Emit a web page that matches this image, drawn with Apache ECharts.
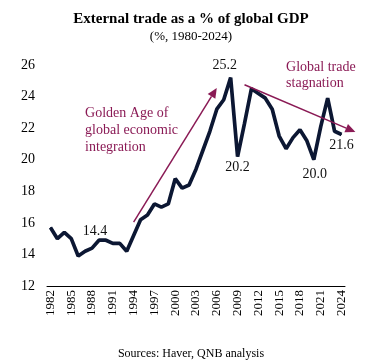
<!DOCTYPE html>
<html><head><meta charset="utf-8">
<script src="https://cdn.jsdelivr.net/npm/echarts@6/dist/echarts.min.js"></script>
<style>html,body{margin:0;padding:0;background:#fff}#c{width:382px;height:364px}</style>
</head><body><div id="c"></div>
<script>
const years = [];
for (let y = 1982; y <= 2024; y++) years.push(String(y));
const tradeShare = [15.7,15.0,15.4,15.0,13.9,14.2,14.4,14.9,14.9,14.7,14.7,14.2,15.2,16.2,16.5,17.2,17.0,17.2,18.8,18.2,18.4,19.4,20.6,21.8,23.2,23.8,25.2,20.2,22.3,24.5,24.2,23.9,23.2,21.5,20.7,21.4,21.9,21.2,20.0,22.1,23.9,21.8,21.6];
const yTicks = [12,14,16,18,20,22,24,26];
const labelled = {'1988':'14.4','2008':'25.2','2009':'20.2','2020':'20.0','2024':'21.6'};

const SERIF = '"Liberation Serif","Times New Roman",serif';
const ANN = '#8a1a55';
const LINE = '#0c1733';
const labelPos = {
  '1988': {position:'top', offset:[3,-4]},
  '2008': {position:'top', offset:[-6,0]},
  '2009': {position:'bottom', offset:[0,-2]},
  '2020': {position:'bottom', offset:[1,2]},
  '2024': {position:'bottom', offset:[0,-2]}
};
const seriesData = tradeShare.map((v,i) => {
  const yr = years[i];
  if (labelled[yr]) {
    return {value:v, label:Object.assign({show:true, formatter:labelled[yr], fontFamily:SERIF, fontSize:14, color:'#111'}, labelPos[yr])};
  }
  return v;
});

const chart = echarts.init(document.getElementById('c'));
chart.setOption({
  animation:false,
  title:[
    {text:'External trade as a % of global GDP', left:'center', top:7, textStyle:{fontFamily:SERIF, fontWeight:'bold', fontSize:15, color:'#000'}},
    {text:'(%, 1980-2024)', left:'center', top:25, textStyle:{fontFamily:SERIF, fontWeight:'normal', fontSize:13, color:'#000'}},
    {text:'Sources: Haver, QNB analysis', left:'center', top:343, textStyle:{fontFamily:SERIF, fontWeight:'normal', fontSize:12, color:'#000'}}
  ],
  grid:{left:47, right:37, top:65, bottom:78},
  xAxis:{type:'category', data:years, boundaryGap:true,
    axisLine:{lineStyle:{color:'#000', width:1}},
    axisTick:{interval:2, length:5, inside:false, lineStyle:{color:'#000'}},
    axisLabel:{interval:2, rotate:90, fontFamily:SERIF, fontSize:13, color:'#000', margin:4}},
  yAxis:{type:'value', min:12, max:26, interval:2,
    axisLine:{show:false}, axisTick:{show:false}, splitLine:{show:false},
    axisLabel:{fontFamily:SERIF, fontSize:14, color:'#000', margin:12}},
  series:[{type:'line', data:seriesData, symbol:'circle', symbolSize:1, showSymbol:true,
    itemStyle:{color:LINE}, lineStyle:{color:LINE, width:3.7}, label:{show:false}, z:3}]
});

function drawAnnotations(){
  const p = (x,y) => chart.convertToPixel({seriesIndex:0}, [x,y]);
  const a1s = p(12, 16.05), a1e = p(24, 24.55);
  const a2s = p(27.9, 24.75), a2e = p(44.1, 21.75);
  const t1 = p(4.8, 23.5), t2 = p(33.8, 26.35);
  function arrow(s,e,id){
    const ang = Math.atan2(e[1]-s[1], e[0]-s[0]);
    const L = 10, W = 4.5;
    const bx = e[0]-L*Math.cos(ang), by = e[1]-L*Math.sin(ang);
    const px = -Math.sin(ang)*W, py = Math.cos(ang)*W;
    return [
      {type:'line', id:id+'l', shape:{x1:s[0], y1:s[1], x2:bx, y2:by}, style:{stroke:ANN, lineWidth:1.5}, z:10},
      {type:'polygon', id:id+'h', shape:{points:[[e[0],e[1]],[bx+px,by+py],[bx-px,by-py]]}, style:{fill:ANN}, z:10}
    ];
  }
  chart.setOption({graphic:[
    ...arrow(a1s,a1e,'a1'), ...arrow(a2s,a2e,'a2'),
    {type:'text', id:'t1', x:t1[0], y:t1[1], style:{text:'Golden Age of\nglobal economic\nintegration', fill:ANN, font:'14px '+SERIF, lineHeight:17}},
    {type:'text', id:'t2', x:t2[0], y:t2[1], style:{text:'Global trade\nstagnation', fill:ANN, font:'14px '+SERIF, lineHeight:16}}
  ]});
}
drawAnnotations();
</script></body></html>
